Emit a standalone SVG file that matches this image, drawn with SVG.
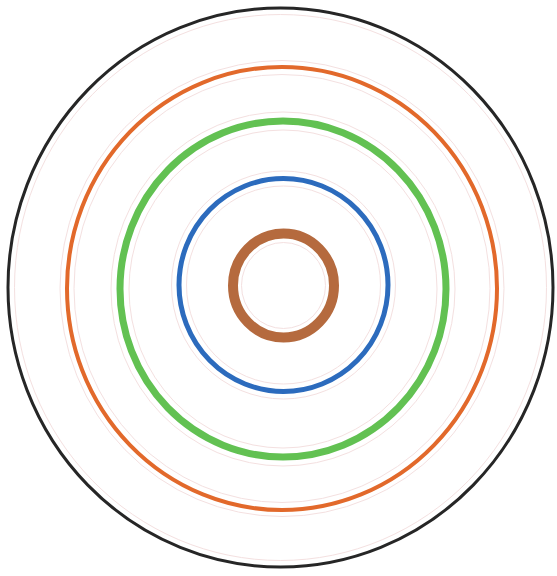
<svg xmlns="http://www.w3.org/2000/svg" width="557" height="576" viewBox="0 0 557 576">
<style>
.ring{fill:none}
.halo{fill:none;stroke:#f4e0e0;stroke-width:1}
</style>
<rect width="557" height="576" fill="#ffffff"/>
<g id="halos">
<ellipse class="halo" cx="280.5" cy="287.5" rx="266" ry="273"/>
<ellipse class="halo" cx="282" cy="288.5" rx="222" ry="228"/>
<ellipse class="halo" cx="282" cy="288.5" rx="208" ry="214"/>
<ellipse class="halo" cx="283" cy="289" rx="172" ry="177"/>
<ellipse class="halo" cx="283" cy="289" rx="154" ry="159"/>
<ellipse class="halo" cx="283.5" cy="285" rx="112" ry="114"/>
<ellipse class="halo" cx="283.5" cy="285" rx="97" ry="99"/>
<ellipse class="halo" cx="283.5" cy="285.5" rx="42" ry="43"/>
</g>
<g id="ring-black"><ellipse class="ring" cx="280.5" cy="287.5" rx="272.5" ry="279.5" stroke="#262626" stroke-width="3"/></g>
<g id="ring-orange"><ellipse class="ring" cx="282" cy="288.5" rx="215" ry="221.5" stroke="#e2692b" stroke-width="4"/></g>
<g id="ring-green"><ellipse class="ring" cx="283" cy="289" rx="163" ry="168" stroke="#62c152" stroke-width="7"/></g>
<g id="ring-blue"><ellipse class="ring" cx="283.5" cy="285" rx="104.5" ry="106.5" stroke="#2c6bbd" stroke-width="5"/></g>
<g id="ring-brown"><ellipse class="ring" cx="283.5" cy="285.5" rx="50.5" ry="52" stroke="#b56a3e" stroke-width="10"/></g>
</svg>
